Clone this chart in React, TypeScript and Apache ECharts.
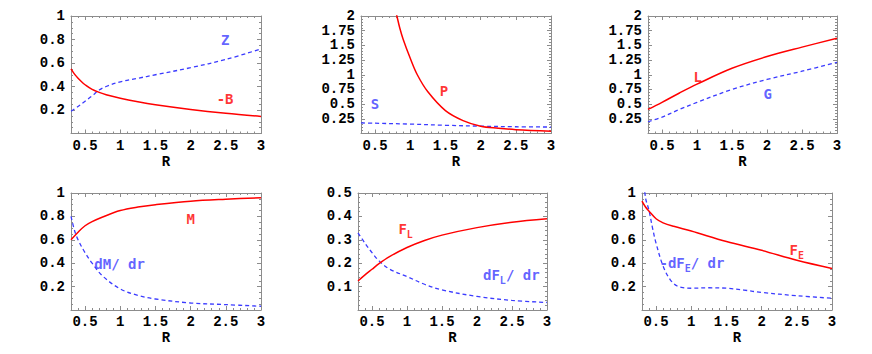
import React, { useEffect, useRef } from "react";
import * as echarts from "echarts";

// ---------- data ----------
// Panel 1: -B and Z
const rNegB = [0.3, 0.35, 0.4, 0.45, 0.5, 0.6, 0.7, 0.8, 1, 1.25, 1.5, 2, 2.5, 3];
const negB = [0.55, 0.505, 0.47, 0.44, 0.415, 0.375, 0.35, 0.33, 0.3, 0.27, 0.245, 0.205, 0.172, 0.145];
const rZ = [0.3, 0.4, 0.5, 0.6, 0.7, 0.8, 1, 1.25, 1.5, 2, 2.5, 3];
const zVals = [0.19, 0.23, 0.275, 0.32, 0.37, 0.4, 0.44, 0.47, 0.5, 0.56, 0.63, 0.72];

// Panel 2: P and S
const rP = [0.78, 0.81, 0.85, 0.9, 1, 1.1, 1.25, 1.5, 1.75, 2, 2.25, 2.5, 3];
const pVals = [2.15, 2.0, 1.8, 1.6, 1.28, 1.0, 0.71, 0.39, 0.22, 0.125, 0.09, 0.065, 0.04];
const rS = [0.3, 0.5, 1, 1.5, 2, 2.5, 3];
const sVals = [0.18, 0.175, 0.16, 0.14, 0.125, 0.115, 0.11];

// Panel 3: L and G
const rLG = [0.3, 0.5, 0.75, 1, 1.5, 2, 2.5, 3];
const lVals = [0.41, 0.53, 0.69, 0.84, 1.11, 1.31, 1.47, 1.62];
const gVals = [0.2, 0.28, 0.41, 0.53, 0.75, 0.92, 1.06, 1.21];

// Panel 4: M and dM/dr
const rM = [0.3, 0.4, 0.5, 0.6, 0.75, 1, 1.25, 1.5, 2, 2.5, 3];
const mVals = [0.6, 0.665, 0.72, 0.755, 0.795, 0.85, 0.88, 0.9, 0.93, 0.947, 0.96];
const rDM = [0.3, 0.35, 0.4, 0.5, 0.6, 0.75, 1, 1.25, 1.5, 2, 2.5, 3];
const dmVals = [0.8, 0.68, 0.6, 0.49, 0.4, 0.29, 0.18, 0.125, 0.094, 0.06, 0.046, 0.032];

// Panel 5: F_L and dF_L/dr
const rFL = [0.3, 0.4, 0.5, 0.6, 0.75, 1, 1.25, 1.5, 2, 2.5, 3];
const flVals = [0.124, 0.15, 0.174, 0.198, 0.228, 0.267, 0.297, 0.32, 0.352, 0.375, 0.39];
const dflVals = [0.33, 0.285, 0.245, 0.21, 0.175, 0.143, 0.11, 0.086, 0.058, 0.041, 0.032];

// Panel 6: F_E and dF_E/dr
const rFE = [0.3, 0.35, 0.4, 0.5, 0.6, 0.75, 1, 1.5, 2, 2.5, 3];
const feVals = [0.93, 0.88, 0.845, 0.78, 0.745, 0.715, 0.675, 0.585, 0.51, 0.425, 0.355];
const rDFE = [0.3, 0.35, 0.4, 0.45, 0.5, 0.6, 0.7, 0.8, 0.9, 1, 1.25, 1.5, 1.75, 2, 2.5, 3];
const dfeVals = [1.25, 0.96, 0.85, 0.7, 0.57, 0.375, 0.26, 0.205, 0.19, 0.186, 0.19, 0.186, 0.17, 0.15, 0.122, 0.1];

// Y axis ranges per panel: [min, max, interval, minor split]
const yRanges: number[][] = [
  [0, 1, 0.2, 4],
  [0, 2, 0.25, 5],
  [0, 2, 0.25, 5],
  [0, 1, 0.2, 4],
  [0, 0.5, 0.1, 5],
  [0, 1, 0.2, 4],
];
const xMin = 0.3;
const xMax = 3;

// Curve labels: [panel, R, value, rich text, colour key]
const curveLabels: [number, number, number, string, string][] = [
  [0, 2.49, 0.8, "{n|Z}", "blue"],
  [0, 2.49, 0.29, "{n|-B}", "red"],
  [1, 0.5, 0.5, "{n|S}", "blue"],
  [1, 1.48, 0.72, "{n|P}", "red"],
  [2, 1.01, 0.97, "{n|L}", "red"],
  [2, 2.01, 0.68, "{n|G}", "blue"],
  [3, 2.0, 0.78, "{n|M}", "red"],
  [3, 0.99, 0.39, "{n|dM/ dr}", "blue"],
  [4, 0.98, 0.347, "{n|F}{s|L}", "red"],
  [4, 2.49, 0.15, "{n|dF}{s|L}{n|/ dr}", "blue"],
  [5, 2.5, 0.51, "{n|F}{s|E}", "red"],
  [5, 1.01, 0.4, "{n|-dF}{s|E}{n|/ dr}", "blue"],
];

// ---------- styling ----------
const RED = "#ff0000";
const BLUE = "#3b3bff";
const GRAY = "#8c8c8c";
const FONT = "Liberation Mono";
const FONT2 = "DejaVu Sans Mono";

const grids = [
  { left: 71, top: 16, width: 190, height: 117.5 },
  { left: 361, top: 16, width: 190, height: 117.5 },
  { left: 648, top: 16, width: 189, height: 117.5 },
  { left: 71, top: 193, width: 190, height: 117 },
  { left: 358, top: 193, width: 189, height: 117 },
  { left: 642, top: 193, width: 190, height: 117 },
];

const zip = (xs: number[], ys: number[]) => xs.map((x, i) => [x, ys[i]]);

function buildOption() {
  const xAxis: any[] = [];
  const yAxis: any[] = [];
  const series: any[] = [];
  const labelStyle = { fontFamily: FONT, fontWeight: "bold", fontSize: 14, color: "#000" };

  grids.forEach((_, i) => {
    const tickLine = { lineStyle: { color: GRAY, width: 1 } };
    xAxis.push({
      gridIndex: i, type: "value", min: xMin, max: xMax, position: "bottom",
      axisLine: { show: true, lineStyle: { color: GRAY, width: 1 } },
      axisTick: { show: true, inside: true, length: 4, ...tickLine },
      axisLabel: {
        ...labelStyle, margin: 5,
        formatter: (v: number) => (Math.abs(v * 2 - Math.round(v * 2)) < 1e-6 ? String(v) : ""),
      },
      splitLine: { show: false },
      name: "R", nameLocation: "middle", nameGap: 21,
      nameTextStyle: { ...labelStyle },
    });
    xAxis.push({
      gridIndex: i, type: "value", min: xMin, max: xMax, interval: 0.1, position: "bottom",
      axisLine: { show: false }, axisTick: { show: true, inside: true, length: 2, ...tickLine },
      axisLabel: { show: false }, splitLine: { show: false },
    });
    xAxis.push({
      gridIndex: i, type: "value", min: xMin, max: xMax, position: "top",
      axisLine: { show: true, lineStyle: { color: GRAY, width: 1 } },
      axisTick: { show: true, inside: true, length: 4, ...tickLine },
      axisLabel: { show: false }, splitLine: { show: false },
    });
    xAxis.push({
      gridIndex: i, type: "value", min: xMin, max: xMax, interval: 0.1, position: "top",
      axisLine: { show: false }, axisTick: { show: true, inside: true, length: 2, ...tickLine },
      axisLabel: { show: false }, splitLine: { show: false },
    });

    const [yMin, yMax, yInt, ySplit] = yRanges[i];
    const yCommon = {
      gridIndex: i, type: "value", min: yMin, max: yMax, interval: yInt,
      axisLine: { show: true, lineStyle: { color: GRAY, width: 1 } },
      axisTick: { show: true, inside: true, length: 4, ...tickLine },
      minorTick: { show: true, splitNumber: ySplit, length: 2, ...tickLine },
      splitLine: { show: false },
    };
    yAxis.push({
      ...yCommon, position: "left",
      axisLabel: {
        ...labelStyle, margin: 6,
        formatter: (v: number) => (v === 0 ? "" : String(v)),
      },
    });
    yAxis.push({ ...yCommon, position: "right", axisLabel: { show: false } });
  });

  const line = (i: number, xs: number[], ys: number[], color: string, dashed: boolean) => ({
    type: "line",
    xAxisIndex: i * 4,
    yAxisIndex: i * 2,
    data: zip(xs, ys),
    symbol: "none",
    showSymbol: false,
    smooth: 0.35,
    silent: true,
    clip: true,
    lineStyle: { color, width: dashed ? 1.3 : 1.5, type: dashed ? [4, 3] : "solid" },
    z: dashed ? 2 : 3,
  });

  series.push(line(0, rNegB, negB, RED, false));
  series.push(line(0, rZ, zVals, BLUE, true));
  series.push(line(1, rP, pVals, RED, false));
  series.push(line(1, rS, sVals, BLUE, true));
  series.push(line(2, rLG, lVals, RED, false));
  series.push(line(2, rLG, gVals, BLUE, true));
  series.push(line(3, rM, mVals, RED, false));
  series.push(line(3, rDM, dmVals, BLUE, true));
  series.push(line(4, rFL, flVals, RED, false));
  series.push(line(4, rFL, dflVals, BLUE, true));
  series.push(line(5, rFE, feVals, RED, false));
  series.push(line(5, rDFE, dfeVals, BLUE, true));

  curveLabels.forEach(([p, r, v, txt, col]) => {
    const color = col === "red" ? RED : BLUE;
    series.push({
      type: "scatter",
      xAxisIndex: p * 4,
      yAxisIndex: p * 2,
      data: [[r, v]],
      symbolSize: 1,
      silent: true,
      itemStyle: { color: "rgba(0,0,0,0)" },
      label: {
        show: true,
        position: "inside",
        formatter: txt,
        rich: {
          n: { fontFamily: FONT2, fontWeight: "bold", fontSize: 14, color },
          s: { fontFamily: FONT2, fontWeight: "bold", fontSize: 10, color, padding: [11, 0, 0, 0] },
        },
      },
      z: 5,
    });
  });

  return {
    animation: false,
    backgroundColor: "#ffffff",
    grid: grids.map((g) => ({ ...g, containLabel: false })),
    xAxis,
    yAxis,
    series,
  };
}

export default function App() {
  const ref = useRef<HTMLDivElement>(null);
  useEffect(() => {
    if (!ref.current) return;
    const chart = echarts.init(ref.current, undefined, { renderer: "svg" });
    chart.setOption(buildOption() as any);
    return () => chart.dispose();
  }, []);
  return (
    <div
      ref={ref}
      style={{ position: "absolute", left: 0, top: 0, width: 872, height: 354, background: "#fff" }}
    />
  );
}
